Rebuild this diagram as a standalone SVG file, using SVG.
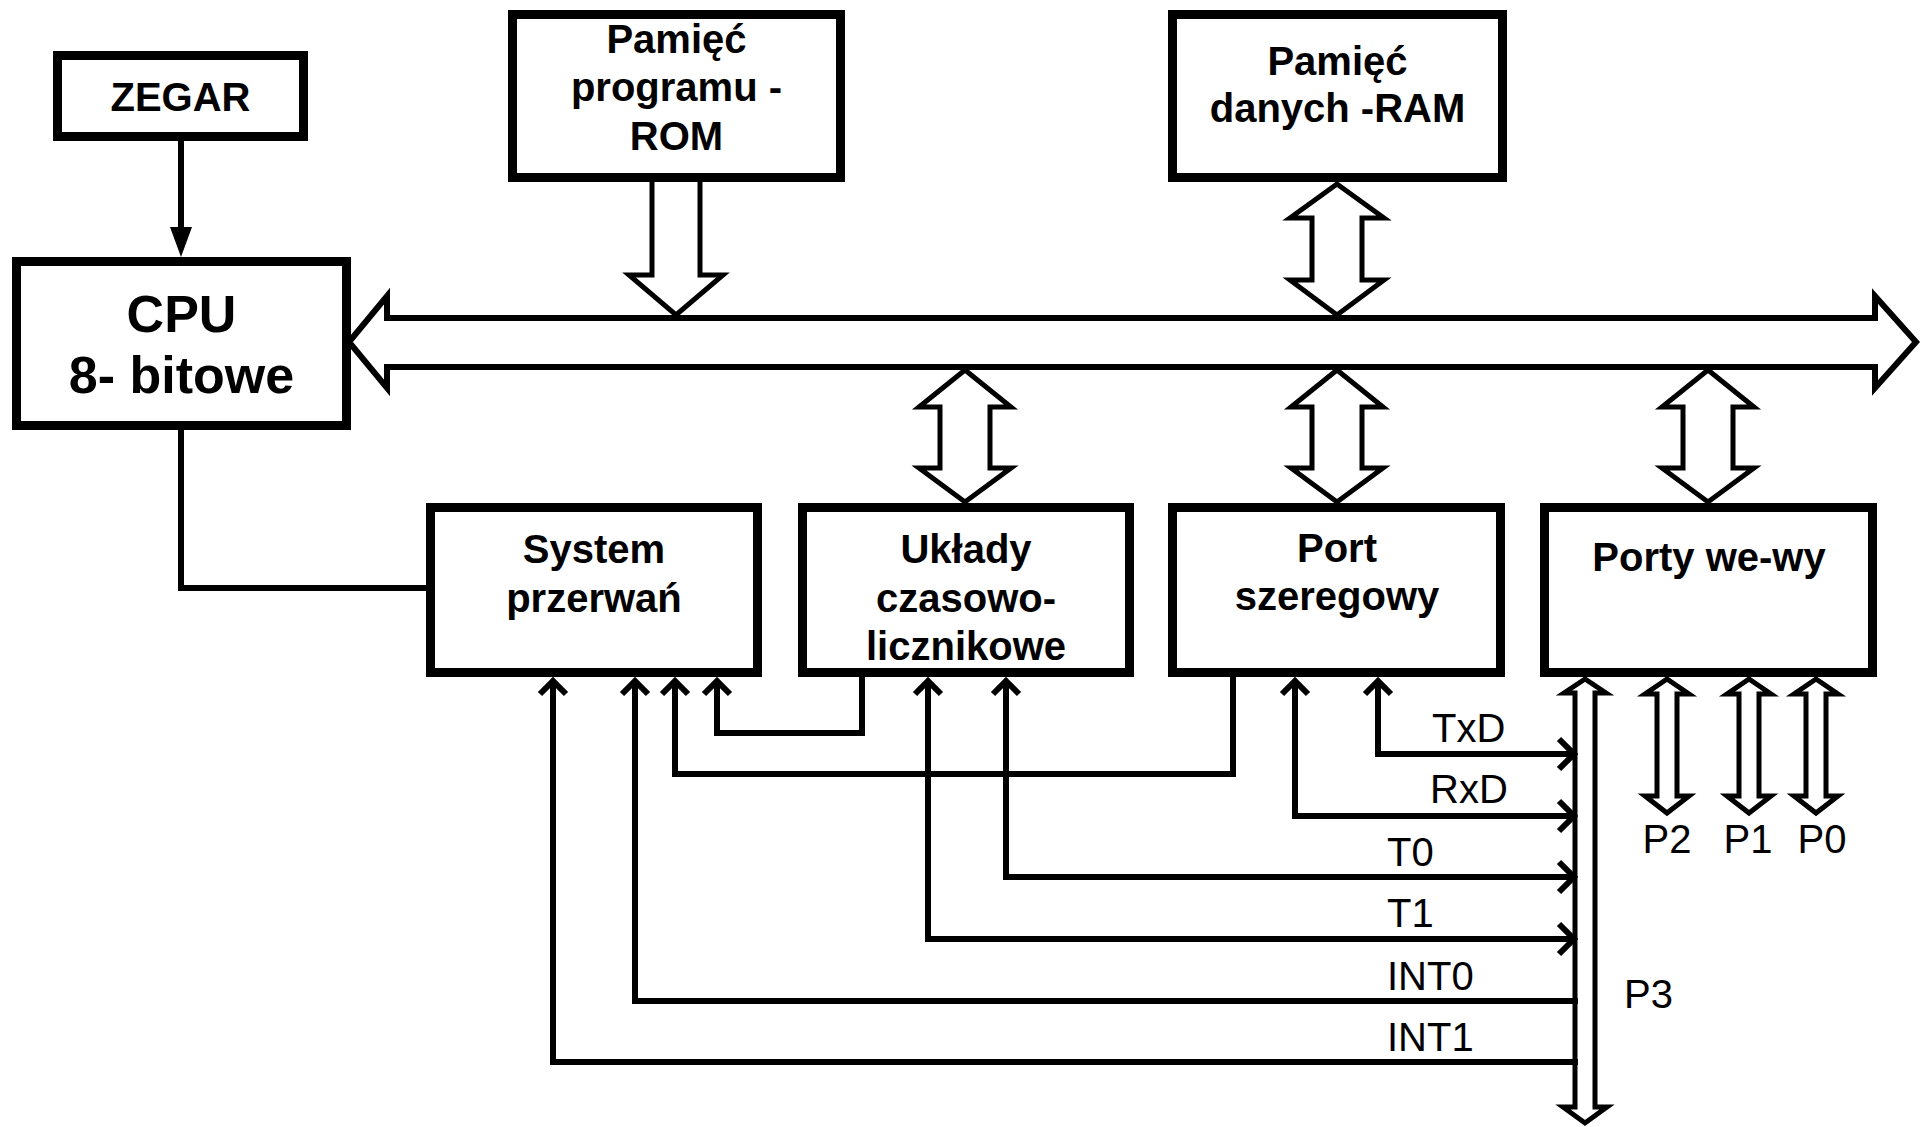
<svg xmlns="http://www.w3.org/2000/svg" width="1927" height="1127" viewBox="0 0 1927 1127">
<style>
.box{fill:#fff;stroke:#000;stroke-width:9}
.t{font-family:"Liberation Sans",Arial,sans-serif;font-weight:bold;font-size:40px;text-anchor:middle;fill:#000}
.cpu{font-size:52px}
.lbl{font-family:"Liberation Sans",Arial,sans-serif;font-size:40px;fill:#000}
.ln{fill:none;stroke:#000;stroke-width:6;stroke-linejoin:miter}
.hollow{fill:#fff;stroke:#000;stroke-width:5;stroke-linejoin:miter}
.bus{fill:#fff;stroke:#000;stroke-width:6;stroke-linejoin:miter}
</style>
<rect width="1927" height="1127" fill="#fff"/>
<g id="connectors">
  <polygon class="bus" points="349,342 387,296 387,318 1875,318 1875,296 1916,342 1875,388 1875,367 387,367 387,388"/>
  <polygon class="hollow" points="652,178 652,275 629,275 676,315 723,275 700,275 700,178"/>
  <polygon class="hollow" points="1337,184 1290,218 1312,218 1312,280 1290,280 1337,315 1384,280 1362,280 1362,218 1384,218"/>
  <polygon class="hollow" points="965,370 919,407 940,407 940,468 919,468 965,502 1011,468 990,468 990,407 1011,407"/>
  <polygon class="hollow" points="1337,370 1291,407 1312,407 1312,468 1291,468 1337,502 1383,468 1362,468 1362,407 1383,407"/>
  <polygon class="hollow" points="1708,370 1662,407 1683,407 1683,468 1662,468 1708,502 1754,468 1733,468 1733,407 1754,407"/>
  <polygon class="hollow" points="1585,679 1564,693 1575,693 1575,1107 1563,1107 1585,1123 1607,1107 1595,1107 1595,693 1606,693"/>
  <polygon class="hollow" points="1667,679 1645,694 1657,694 1657,796 1645,796 1667,813 1689,796 1677,796 1677,694 1689,694"/>
  <polygon class="hollow" points="1749,679 1727,694 1739,694 1739,796 1727,796 1749,813 1771,796 1759,796 1759,694 1771,694"/>
  <polygon class="hollow" points="1816,679 1794,694 1806,694 1806,796 1794,796 1816,813 1838,796 1826,796 1826,694 1838,694"/>
  <line class="ln" x1="181" y1="141" x2="181" y2="230"/>
  <polygon points="170,227 192,227 181,257" fill="#000"/>
  <polyline class="ln" points="181,430 181,588 428,588"/>
  <polyline class="ln" points="1233,677 1233,774 675,774 675,680"/>
  <polyline class="ln" points="862,677 862,733 717,733 717,680"/>
  <polyline class="ln" points="1378,680 1378,754 1575,754"/>
  <polyline class="ln" points="1295,680 1295,816 1575,816"/>
  <polyline class="ln" points="1006,680 1006,877 1575,877"/>
  <polyline class="ln" points="928,680 928,939 1575,939"/>
  <polyline class="ln" points="635,680 635,1001 1578,1001"/>
  <polyline class="ln" points="553,680 553,1062 1578,1062"/>
  <polyline class="ln" points="540,694 553,681 566,694"/>
  <polyline class="ln" points="622,694 635,681 648,694"/>
  <polyline class="ln" points="662,694 675,681 688,694"/>
  <polyline class="ln" points="704,694 717,681 730,694"/>
  <polyline class="ln" points="915,694 928,681 941,694"/>
  <polyline class="ln" points="993,694 1006,681 1019,694"/>
  <polyline class="ln" points="1282,694 1295,681 1308,694"/>
  <polyline class="ln" points="1365,694 1378,681 1391,694"/>
  <polyline class="ln" points="1559,739 1574,754 1559,769"/>
  <polyline class="ln" points="1559,801 1574,816 1559,831"/>
  <polyline class="ln" points="1559,862 1574,877 1559,892"/>
  <polyline class="ln" points="1559,924 1574,939 1559,954"/>
  <text class="lbl" x="1432" y="742">TxD</text>
  <text class="lbl" x="1430" y="803">RxD</text>
  <text class="lbl" x="1387" y="866">T0</text>
  <text class="lbl" x="1387" y="927">T1</text>
  <text class="lbl" x="1387" y="990">INT0</text>
  <text class="lbl" x="1387" y="1051">INT1</text>
  <text class="lbl" x="1624" y="1008">P3</text>
  <text class="lbl" x="1667" y="853" text-anchor="middle">P2</text>
  <text class="lbl" x="1748" y="853" text-anchor="middle">P1</text>
  <text class="lbl" x="1822" y="853" text-anchor="middle">P0</text>
</g>
<g id="zegar">
  <rect class="box" x="57.5" y="55.5" width="246" height="81"/>
  <text class="t" x="180.5" y="111">ZEGAR</text>
</g>
<g id="cpu">
  <rect class="box" x="16.5" y="261.5" width="330" height="164"/>
  <text class="t cpu" x="181.5" y="332">CPU</text>
  <text class="t cpu" x="181.5" y="393">8- bitowe</text>
</g>
<g id="rom">
  <rect class="box" x="512.5" y="14.5" width="328" height="163"/>
  <text class="t" x="676.5" y="53">Pamięć</text>
  <text class="t" x="676.5" y="101">programu -</text>
  <text class="t" x="676.5" y="150">ROM</text>
</g>
<g id="ram">
  <rect class="box" x="1172.5" y="14.5" width="330" height="163"/>
  <text class="t" x="1337.5" y="75">Pamięć</text>
  <text class="t" x="1337.5" y="122">danych -RAM</text>
</g>
<g id="system">
  <rect class="box" x="430.5" y="507.5" width="327" height="165"/>
  <text class="t" x="594" y="563">System</text>
  <text class="t" x="594" y="612">przerwań</text>
</g>
<g id="timer">
  <rect class="box" x="802.5" y="507.5" width="327" height="165"/>
  <text class="t" x="966" y="563">Układy</text>
  <text class="t" x="966" y="612">czasowo-</text>
  <text class="t" x="966" y="660">licznikowe</text>
</g>
<g id="serial">
  <rect class="box" x="1172.5" y="507.5" width="328" height="165"/>
  <text class="t" x="1337" y="562">Port</text>
  <text class="t" x="1337" y="610">szeregowy</text>
</g>
<g id="ports">
  <rect class="box" x="1544.5" y="507.5" width="328" height="165"/>
  <text class="t" x="1709" y="571">Porty we-wy</text>
</g>
</svg>
